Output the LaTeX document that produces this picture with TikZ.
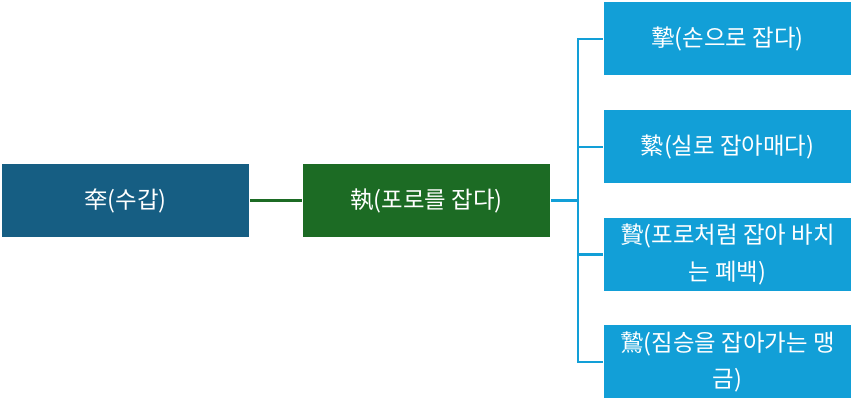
\documentclass[tikz,border=0pt]{standalone}
\usepackage{fontspec}
\setmainfont{Noto Sans CJK KR}
\usepackage{tikz}

\definecolor{rootblue}{HTML}{165E83}
\definecolor{midgreen}{HTML}{1C6B24}
\definecolor{leafblue}{HTML}{129FD7}

\begin{document}
\begin{tikzpicture}[
        x=0.03cm,y=0.03cm,
        every node/.style={rectangle,text=white,minimum width=7.41cm,minimum height=2.19cm,inner sep=2pt,align=center,font=\fontsize{20}{31}\selectfont},
        line width=1.9pt
    ]
        \useasboundingbox (0,0) rectangle (854,-402);

        \node[fill=rootblue] (root) at (125.5,-200.5) {㚔(수갑)};
        \node[fill=midgreen] (mid) at (426.5,-200.5) {執(포로를 잡다)};
        \node[fill=leafblue] (c1) at (727.5,-39) {摯(손으로 잡다)};
        \node[fill=leafblue] (c2) at (727.5,-147) {縶(실로 잡아매다)};
        \node[fill=leafblue] (c3) at (727.5,-254.5) {贄(포로처럼 잡아 바치\\는 폐백)};
        \node[fill=leafblue] (c4) at (727.5,-362) {鷙(짐승을 잡아가는 맹\\금)};
        \coordinate (bus) at (578,-200.5);

        \draw[midgreen] (root) -- (mid);
        \draw[leafblue] (mid) -- (bus);
        \draw[leafblue] (bus) |- (c1);
        \draw[leafblue] (bus) |- (c2);
        \draw[leafblue] (bus) |- (c3);
        \draw[leafblue] (bus) |- (c4);
    \end{tikzpicture}
\end{document}
